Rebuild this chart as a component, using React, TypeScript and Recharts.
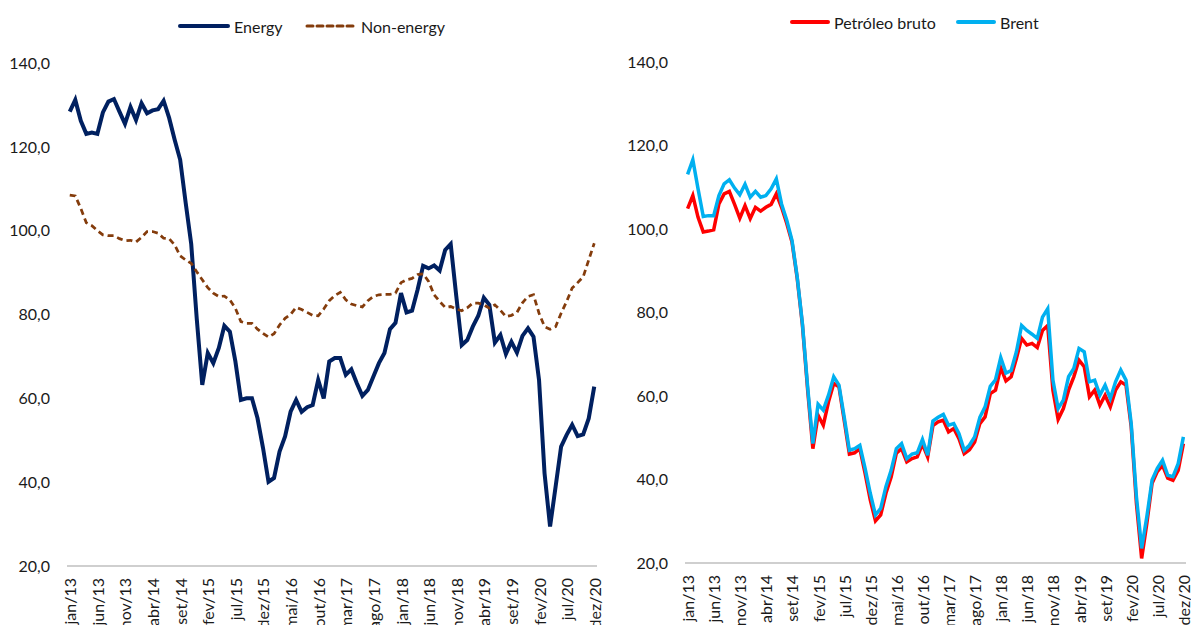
import React from 'react';
import { LineChart, Line, XAxis, YAxis, Legend } from 'recharts';

// categories jan/13 .. dez/20
const MONTHS = ['jan', 'fev', 'mar', 'abr', 'mai', 'jun', 'jul', 'ago', 'set', 'out', 'nov', 'dez'];
const YEARS = ['13', '14', '15', '16', '17', '18', '19', '20'];
const months: string[] = YEARS.flatMap((y) => MONTHS.map((m) => `${m}/${y}`));

const Y_TICKS = [20, 40, 60, 80, 100, 120, 140];

const energy = [
  128.4, 131.2, 126.2, 123.1, 123.4, 123.1, 128.2, 130.8, 131.4, 128.4, 125.5, 129.5,
  126.4, 130.4, 128.0, 128.7, 129.0, 131.0, 126.9, 121.7, 116.9, 106.6, 96.8, 79.0,
  63.2, 70.8, 68.4, 72.0, 77.3, 75.9, 68.8, 59.6, 60.0, 60.0, 55.3, 48.2,
  40.1, 41.0, 47.3, 50.9, 56.8, 59.6, 56.8, 57.9, 58.4, 64.4, 60.0, 68.8,
  69.6, 69.6, 65.6, 66.9, 63.6, 60.6, 62.0, 65.2, 68.4, 70.8, 76.5, 78.0,
  85.1, 80.5, 80.9, 85.9, 91.6, 91.0, 91.7, 90.5, 95.4, 96.8, 84.5, 72.7,
  73.9, 77.1, 79.7, 84.0, 82.3, 73.3, 75.1, 70.6, 73.5, 70.9, 74.9, 76.7,
  74.7, 64.4, 42.1, 29.4, 38.9, 48.5, 51.3, 53.7, 51.0, 51.4, 55.2, 62.8,
];

const nonEnergy = [
  108.5, 108.3, 105.3, 101.9, 101.2, 100.0, 99.0, 98.8, 98.8, 98.1, 97.6, 97.7,
  97.3, 98.4, 99.8, 99.8, 99.4, 98.2, 98.1, 96.6, 94.0, 93.0, 92.2, 90.2,
  88.3, 86.4, 85.1, 84.3, 84.4, 83.5, 81.5, 78.3, 77.9, 77.9, 76.5, 75.5,
  74.6, 75.4, 77.5, 79.1, 80.0, 81.7, 81.2, 80.5, 79.8, 79.7, 81.3, 83.3,
  84.5, 85.3, 83.5, 82.5, 82.1, 81.8, 83.3, 84.3, 84.7, 84.8, 84.8, 85.1,
  87.6, 88.3, 88.6, 89.5, 89.7, 87.9, 84.7, 83.1, 81.7, 81.9, 81.3, 80.9,
  81.6, 82.7, 82.7, 82.3, 81.5, 82.3, 81.0, 79.5, 79.8, 80.5, 82.8, 84.3,
  84.7, 80.3, 77.1, 76.5, 77.1, 80.3, 83.1, 86.3, 87.6, 89.0, 93.0, 97.0,
];

const crude = [
  104.9, 108.0, 102.8, 99.3, 99.5, 99.8, 106.0, 108.4, 109.0, 105.9, 102.6, 105.6,
  102.5, 105.2, 104.3, 105.2, 105.9, 108.4, 105.2, 101.3, 96.9, 88.2, 77.0, 61.5,
  47.4, 55.4, 53.0, 58.6, 63.0, 62.2, 54.2, 46.1, 46.4, 47.4, 41.5, 35.1,
  30.1, 31.5, 36.7, 40.6, 46.3, 47.4, 44.2, 45.0, 45.4, 48.5, 45.4, 52.9,
  53.8, 54.2, 51.4, 52.2, 49.8, 46.2, 47.1, 49.0, 53.4, 55.0, 60.6, 61.4,
  66.8, 63.6, 64.6, 69.0, 73.8, 72.2, 72.6, 71.6, 75.7, 76.9, 61.4, 54.4,
  57.0, 61.4, 64.6, 68.6, 67.0, 59.8, 61.4, 57.8, 60.2, 57.4, 61.4, 63.4,
  62.6, 52.6, 34.3, 21.1, 29.5, 39.1, 41.9, 43.4, 40.3, 39.8, 42.2, 48.6,
];

const brent = [
  113.1, 116.6, 109.6, 103.0, 103.2, 103.2, 108.0, 110.8, 111.8, 109.8, 108.2, 110.7,
  107.6, 109.0, 107.6, 108.0, 109.6, 112.0, 106.0, 102.1, 97.3, 88.5, 77.3, 62.2,
  48.6, 58.0, 56.6, 60.2, 64.6, 62.6, 55.0, 47.0, 47.4, 48.2, 42.7, 36.7,
  31.5, 33.1, 38.3, 42.2, 47.4, 48.6, 45.0, 46.1, 46.4, 49.6, 45.8, 54.0,
  54.9, 55.6, 53.0, 53.4, 51.0, 47.0, 48.2, 50.2, 54.9, 57.4, 62.3, 63.9,
  69.2, 65.5, 66.1, 70.6, 76.9, 75.7, 74.8, 73.8, 78.9, 80.9, 63.8, 57.0,
  59.0, 64.6, 66.6, 71.4, 70.6, 63.4, 63.8, 60.2, 62.6, 59.4, 63.4, 66.2,
  63.8, 53.4, 35.9, 23.5, 31.1, 39.9, 42.7, 44.6, 41.0, 40.7, 43.8, 50.2,
];

const leftData = months.map((m, i) => ({ month: m, energy: energy[i], nonEnergy: nonEnergy[i] }));
const rightData = months.map((m, i) => ({ month: m, crude: crude[i], brent: brent[i] }));

const FONT = 'Lato, "Open Sans", sans-serif';
const TEXT = '#1a1a1a';
const AXIS = '#bfbfbf';

const fmt = (v: number) => v.toFixed(1).replace('.', ',');

const MonthTick = (props: any) => {
  const { x, y, payload } = props;
  return (
    <text
      x={x}
      y={y}
      transform={`rotate(-90 ${x} ${y})`}
      textAnchor="end"
      dominantBaseline="central"
      fontSize={16}
      fontFamily={FONT}
      fill={TEXT}
    >
      {payload.value}
    </text>
  );
};

type LegendItem = { label: string; color: string; dash?: string; left: number; sample: number; sw: number };

const makeLegend = (items: LegendItem[]) => () => (
  <div style={{ position: 'relative', height: 24 }}>
    {items.map((it) => (
      <div
        key={it.label}
        style={{ position: 'absolute', left: it.left, top: 0, display: 'flex', alignItems: 'center', height: 24 }}
      >
        <svg width={it.sample} height={10} style={{ marginRight: 4 }}>
          <line
            x1={2}
            y1={5}
            x2={it.sample - 2}
            y2={5}
            stroke={it.color}
            strokeWidth={it.sw}
            strokeLinecap="round"
            strokeDasharray={it.dash}
          />
        </svg>
        <span style={{ fontFamily: FONT, fontSize: 16, color: TEXT, whiteSpace: 'nowrap' }}>{it.label}</span>
      </div>
    ))}
  </div>
);

const leftLegend = makeLegend([
  { label: 'Energy', color: '#002060', left: 178, sample: 52, sw: 4 },
  { label: 'Non-energy', color: '#843C0C', dash: '6 4', left: 305, sample: 52, sw: 3 },
]);

const rightLegend = makeLegend([
  { label: 'Petróleo bruto', color: '#FF0000', left: 185, sample: 40, sw: 4 },
  { label: 'Brent', color: '#00B0F0', left: 351, sample: 40, sw: 4 },
]);

const yAxisProps = {
  domain: [20, 140] as [number, number],
  ticks: Y_TICKS,
  tickFormatter: fmt,
  axisLine: false,
  tickLine: false,
  tickSize: 0,
  tickMargin: 17,
  width: 60,
  tick: { fontSize: 16, fontFamily: FONT, fill: TEXT },
};

const xAxisProps = {
  dataKey: 'month',
  scale: 'band' as const,
  interval: 4,
  tickLine: false,
  tickSize: 0,
  tickMargin: 12,
  height: 50,
  axisLine: { stroke: AXIS, strokeWidth: 1.5 },
  tick: <MonthTick />,
};

export default function App() {
  return (
    <div style={{ position: 'absolute', left: 0, top: 0, width: 1191, height: 625, background: '#fff' }}>
      <div style={{ position: 'absolute', left: 0, top: 0 }}>
        <LineChart width={605} height={625} data={leftData} margin={{ top: 63, right: 8, bottom: 9, left: 7 }}>
          <XAxis {...xAxisProps} />
          <YAxis {...yAxisProps} />
          <Legend
            verticalAlign="middle"
            align="center"
            content={leftLegend}
            wrapperStyle={{ top: 14, left: 0, width: 605 }}
          />
          <Line
            type="linear"
            dataKey="energy"
            name="Energy"
            stroke="#002060"
            strokeWidth={4}
            dot={false}
            isAnimationActive={false}
          />
          <Line
            type="linear"
            dataKey="nonEnergy"
            name="Non-energy"
            stroke="#843C0C"
            strokeWidth={2.75}
            strokeDasharray="6 4"
            dot={false}
            isAnimationActive={false}
          />
        </LineChart>
      </div>
      <div style={{ position: 'absolute', left: 605, top: 0 }}>
        <LineChart width={586} height={625} data={rightData} margin={{ top: 62, right: 5, bottom: 12, left: 20 }}>
          <XAxis {...xAxisProps} />
          <YAxis {...yAxisProps} />
          <Legend
            verticalAlign="middle"
            align="center"
            content={rightLegend}
            wrapperStyle={{ top: 10, left: 0, width: 586 }}
          />
          <Line
            type="linear"
            dataKey="crude"
            name="Petróleo bruto"
            stroke="#FF0000"
            strokeWidth={3.5}
            dot={false}
            isAnimationActive={false}
          />
          <Line
            type="linear"
            dataKey="brent"
            name="Brent"
            stroke="#00B0F0"
            strokeWidth={3.5}
            dot={false}
            isAnimationActive={false}
          />
        </LineChart>
      </div>
    </div>
  );
}
